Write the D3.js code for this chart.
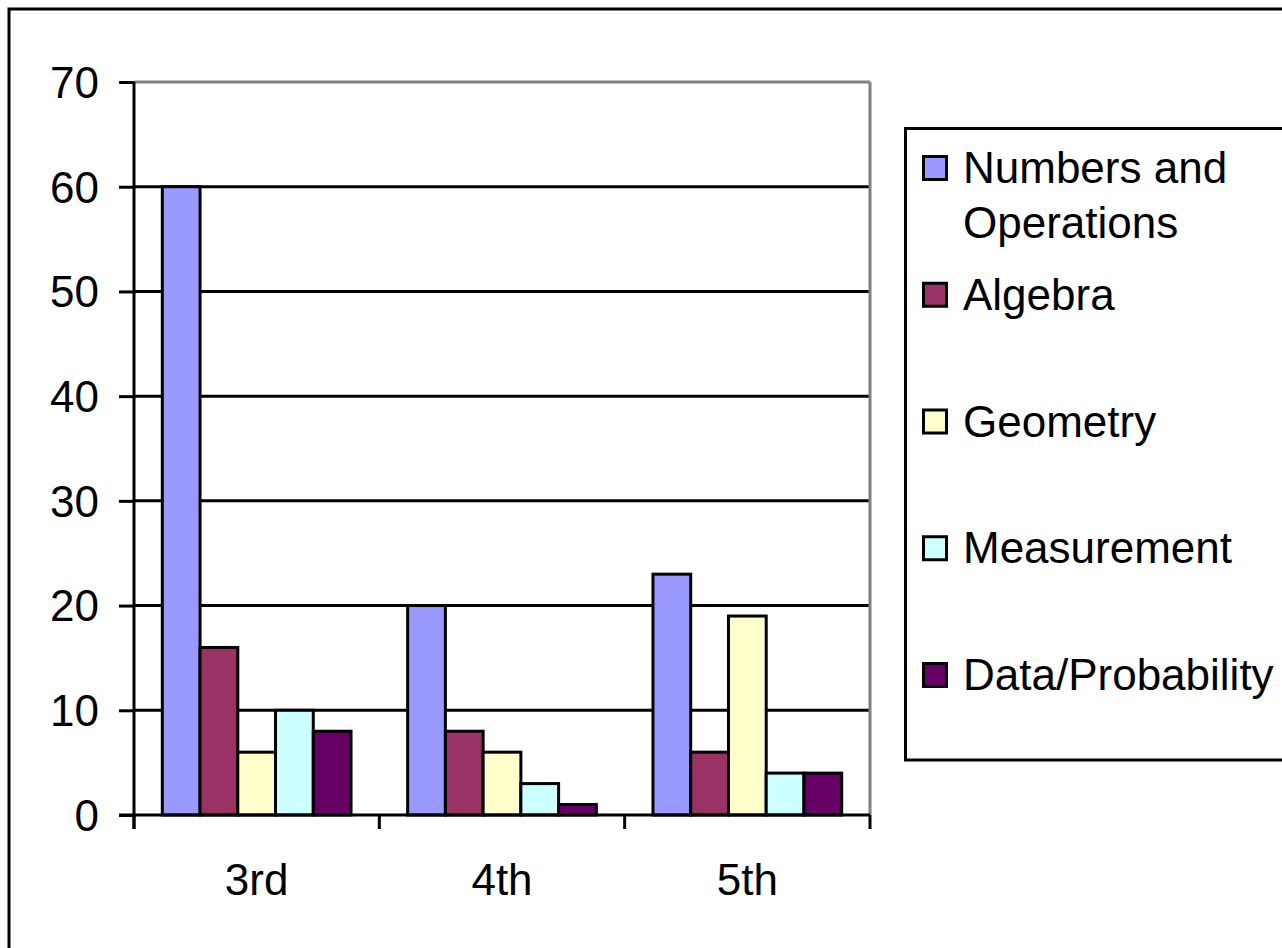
<!DOCTYPE html>
<html><head><meta charset="utf-8">
<script src="https://cdn.jsdelivr.net/npm/d3@7/dist/d3.min.js"></script>
<style>html,body{margin:0;padding:0;background:#fff;overflow:hidden}</style>
</head><body>
<svg id="c" width="1282" height="948"></svg>
<script>
const categories = ["3rd", "4th", "5th"];
const seriesNames = ["Numbers and Operations", "Algebra", "Geometry", "Measurement", "Data/Probability"];
const legendLines = [["Numbers and", "Operations"], ["Algebra"], ["Geometry"], ["Measurement"], ["Data/Probability"]];
const seriesColors = ["#9999FF", "#993366", "#FFFFCC", "#CCFFFF", "#660066"];
const numbersOps = [60, 20, 23];
const algebra = [16, 8, 6];
const geometry = [6, 6, 19];
const measurement = [10, 3, 4];
const dataProb = [8, 1, 4];
const yTicks = [0, 10, 20, 30, 40, 50, 60, 70];

const seriesValues = [numbersOps, algebra, geometry, measurement, dataProb];
const font = "'Liberation Sans', Arial, sans-serif";
const fs = 44;
const svg = d3.select("#c");

// outer chart border
svg.append("rect").attr("x", 9).attr("y", 9).attr("width", 1300).attr("height", 960)
  .attr("fill", "#fff").attr("stroke", "#000").attr("stroke-width", 3);

const L = 134, R = 870, T = 82, B = 815;
const x0 = d3.scaleBand().domain(categories).range([L, R]).padding(0);
const bw = x0.bandwidth();
const x1 = d3.scaleBand().domain(seriesNames).range([bw * 0.75 / 6.5, bw * 5.75 / 6.5]).padding(0);
const y = d3.scaleLinear().domain([0, 70]).range([B, T]);

// gridlines
svg.append("g").selectAll("line").data(yTicks.filter(t => t > 0)).join("line")
  .attr("x1", L).attr("x2", R).attr("y1", d => y(d)).attr("y2", d => y(d))
  .attr("stroke", d => d === 70 ? "#808080" : "#000").attr("stroke-width", 3);
// right plot border (gray)
svg.append("line").attr("x1", R).attr("x2", R).attr("y1", T).attr("y2", B)
  .attr("stroke", "#808080").attr("stroke-width", 3);

// bars
const data = [];
categories.forEach((c, i) => seriesNames.forEach((s, j) => data.push({c, s, j, v: seriesValues[j][i]})));
svg.append("g").selectAll("rect").data(data).join("rect")
  .attr("x", d => x0(d.c) + x1(d.s))
  .attr("y", d => y(d.v))
  .attr("width", x1.bandwidth())
  .attr("height", d => y(0) - y(d.v))
  .attr("fill", d => seriesColors[d.j])
  .attr("stroke", "#000").attr("stroke-width", 3);

// y axis
const yAxis = d3.axisLeft(y).tickValues(yTicks).tickSize(15).tickPadding(20).tickFormat(d3.format("d"));
const gy = svg.append("g").attr("transform", `translate(${L},0)`).call(yAxis);
gy.select(".domain").attr("stroke", "#000").attr("stroke-width", 3).attr("d", `M0,${T}V${B + 14}`);
gy.selectAll(".tick line").attr("stroke", "#000").attr("stroke-width", 3);
gy.selectAll(".tick text").attr("font-family", font).attr("font-size", fs).attr("fill", "#000").attr("dy", "0.35em");

// x axis
const gx = svg.append("g").attr("transform", `translate(0,${B})`);
gx.append("line").attr("x1", L - 15).attr("x2", R).attr("y1", 0).attr("y2", 0)
  .attr("stroke", "#000").attr("stroke-width", 3);
const boundaries = categories.map(c => x0(c)).concat([R]);
gx.selectAll("line.tk").data(boundaries).join("line").attr("class", "tk")
  .attr("x1", d => d).attr("x2", d => d).attr("y1", 0).attr("y2", 14)
  .attr("stroke", "#000").attr("stroke-width", 3);
gx.selectAll("text").data(categories).join("text")
  .attr("x", d => x0(d) + bw / 2).attr("y", 80)
  .attr("text-anchor", "middle").attr("font-family", font).attr("font-size", fs).attr("fill", "#000")
  .text(d => d);

// legend
svg.append("rect").attr("x", 905.5).attr("y", 128.5).attr("width", 420).attr("height", 631.5)
  .attr("fill", "#fff").attr("stroke", "#000").attr("stroke-width", 3);
const lg = svg.append("g").selectAll("g").data(seriesNames).join("g")
  .attr("transform", (d, i) => `translate(922,${168 + i * 126.75})`);
lg.append("rect").attr("x", 1.5).attr("y", -11.5).attr("width", 23).attr("height", 23)
  .attr("fill", (d, i) => seriesColors[i]).attr("stroke", "#000").attr("stroke-width", 3);
lg.each(function(d, i) {
  const t = d3.select(this).append("text").attr("font-family", font).attr("font-size", fs).attr("fill", "#000");
  legendLines[i].forEach((ln, k) => {
    t.append("tspan").attr("x", 41).attr("y", 15 + k * 55).text(ln);
  });
});
</script>
</body></html>
